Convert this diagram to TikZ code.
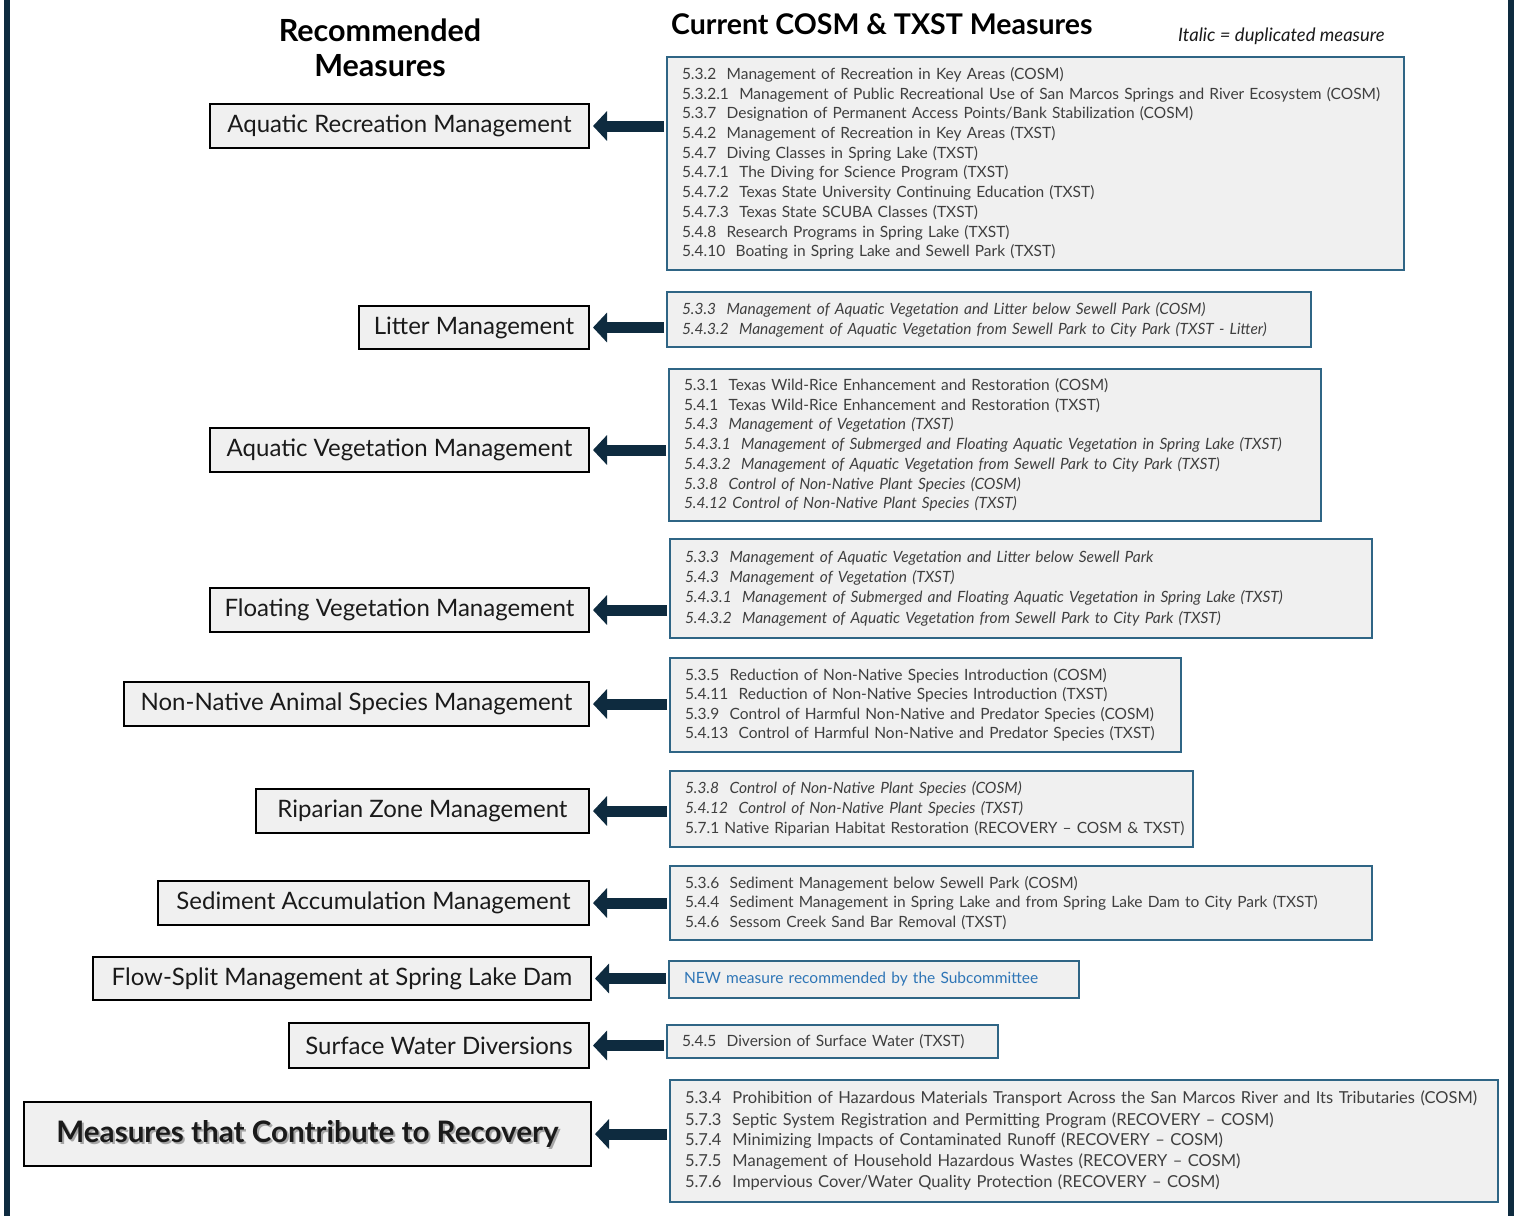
\documentclass[tikz,border=0pt]{standalone}
\usepackage{fontspec}
\setmainfont{Lato}
\usetikzlibrary{arrows.meta}
\definecolor{navy}{HTML}{0E2B3F}
\definecolor{rborder}{HTML}{2F6585}
\definecolor{boxfill}{HTML}{F0F0F0}
\definecolor{rtext}{HTML}{3F3F3F}
\definecolor{ltext}{HTML}{1A1A1A}
\definecolor{newblue}{HTML}{2E75B6}
\newcommand\rfnt[1]{\fontsize{15.5}{#1}\selectfont}
\tikzset{
  x=1pt, y=-1pt,
  lbox/.style={draw=black, line width=2pt, fill=boxfill, inner sep=0pt, anchor=north east,
    font=\fontsize{24}{28}\selectfont, text=ltext},
  rbox/.style={draw=rborder, line width=2pt, fill=boxfill, inner xsep=15pt, inner ysep=0pt,
    anchor=north west, align=left, text=rtext},
  arr/.style={draw=navy, line width=11pt, -{Triangle[width=29pt,length=14pt]}, shorten >=3pt},
  hdr/.style={font=\bfseries, text=black, inner sep=0pt, align=center},
}
\begin{document}
\begin{tikzpicture}
\useasboundingbox (0,0) rectangle (1518,1216);
\fill[white] (0,0) rectangle (1518,1216);
\fill[navy] (4,0) rectangle (10,1216);
\fill[navy] (1508,0) rectangle (1514,1216);

% headers
\node[hdr, font=\bfseries\fontsize{30.5}{35}\selectfont] (h1) at (380,48) {Recommended\\Measures};
\node[hdr, anchor=west, font=\bfseries\fontsize{28.5}{32}\selectfont] (h2) at (671,24) {Current COSM \& TXST Measures};
\node[anchor=west, inner sep=0pt, font=\itshape\fontsize{18.5}{20}\selectfont, text=ltext] (h3) at (1178,36) {Italic = duplicated measure};

% left boxes
\node[lbox, minimum width=379, minimum height=44] (l1) at (590,103) {Aquatic Recreation Management};
\node[lbox, minimum width=230, minimum height=43] (l2) at (590,305) {Litter Management};
\node[lbox, minimum width=379, minimum height=44] (l3) at (590,427) {Aquatic Vegetation Management};
\node[lbox, minimum width=379, minimum height=44] (l4) at (590,587) {Floating Vegetation Management};
\node[lbox, minimum width=465, minimum height=44] (l5) at (590,681) {Non-Native Animal Species Management};
\node[lbox, minimum width=333, minimum height=44] (l6) at (590,788) {Riparian Zone Management};
\node[lbox, minimum width=431, minimum height=44] (l7) at (590,880) {Sediment Accumulation Management};
\node[lbox, minimum width=498, minimum height=43] (l8) at (592,956) {Flow-Split Management at Spring Lake Dam};
\node[lbox, minimum width=300, minimum height=45] (l9) at (590,1022) {Surface Water Diversions};
\node[lbox, minimum width=567, minimum height=64] (l10) at (592,1101) {};
\node[font=\bfseries\fontsize{29.6}{32}\selectfont, text=black!35, inner sep=0pt] (l10s) at ([shift={(2,2)}]l10.center) {Measures that Contribute to Recovery};
\node[font=\bfseries\fontsize{29.6}{32}\selectfont, text=ltext, inner sep=0pt] (l10t) at (l10.center) {Measures that Contribute to Recovery};

% right boxes
\node[rbox, text width=707, minimum height=213, font=\rfnt{19.7}] (r1) at (666,56) {%
\mbox{5.3.2~ Management of Recreation in Key Areas (COSM)}\\
\mbox{5.3.2.1~ Management of Public Recreational Use of San Marcos Springs and River Ecosystem (COSM)}\\
\mbox{5.3.7~ Designation of Permanent Access Points/Bank Stabilization (COSM)}\\
\mbox{5.4.2~ Management of Recreation in Key Areas (TXST)}\\
\mbox{5.4.7~ Diving Classes in Spring Lake (TXST)}\\
\mbox{5.4.7.1~ The Diving for Science Program (TXST)}\\
\mbox{5.4.7.2~ Texas State University Continuing Education (TXST)}\\
\mbox{5.4.7.3~ Texas State SCUBA Classes (TXST)}\\
\mbox{5.4.8~ Research Programs in Spring Lake (TXST)}\\
\mbox{5.4.10~ Boating in Spring Lake and Sewell Park (TXST)}};

\node[rbox, text width=614, minimum height=55, font=\itshape\rfnt{20}] (r2) at (666,291) {%
\mbox{5.3.3~ Management of Aquatic Vegetation and Litter below Sewell Park (COSM)}\\
\mbox{5.4.3.2~ Management of Aquatic Vegetation from Sewell Park to City Park (TXST - Litter)}};

\node[rbox, text width=622, minimum height=152, font=\rfnt{19.7}] (r3) at (668,368) {%
\mbox{5.3.1~ Texas Wild-Rice Enhancement and Restoration (COSM)}\\
\mbox{5.4.1~ Texas Wild-Rice Enhancement and Restoration (TXST)}\\
\mbox{\itshape 5.4.3~ Management of Vegetation (TXST)}\\
\mbox{\itshape 5.4.3.1~ Management of Submerged and Floating Aquatic Vegetation in Spring Lake (TXST)}\\
\mbox{\itshape 5.4.3.2~ Management of Aquatic Vegetation from Sewell Park to City Park (TXST)}\\
\mbox{\itshape 5.3.8~ Control of Non-Native Plant Species (COSM)}\\
\mbox{\itshape 5.4.12 Control of Non-Native Plant Species (TXST)}};

\node[rbox, text width=672, minimum height=99, font=\itshape\rfnt{20.3}] (r4) at (669,538) {%
\mbox{5.3.3~ Management of Aquatic Vegetation and Litter below Sewell Park}\\
\mbox{5.4.3~ Management of Vegetation (TXST)}\\
\mbox{5.4.3.1~ Management of Submerged and Floating Aquatic Vegetation in Spring Lake (TXST)}\\
\mbox{5.4.3.2~ Management of Aquatic Vegetation from Sewell Park to City Park (TXST)}};

\node[rbox, text width=481, minimum height=94, font=\rfnt{19.5}] (r5) at (669,657) {%
\mbox{5.3.5~ Reduction of Non-Native Species Introduction (COSM)}\\
\mbox{5.4.11~ Reduction of Non-Native Species Introduction (TXST)}\\
\mbox{5.3.9~ Control of Harmful Non-Native and Predator Species (COSM)}\\
\mbox{5.4.13~ Control of Harmful Non-Native and Predator Species (TXST)}};

\node[rbox, text width=493, minimum height=76, font=\rfnt{20}] (r6) at (669,770) {%
\mbox{\itshape 5.3.8~ Control of Non-Native Plant Species (COSM)}\\
\mbox{\itshape 5.4.12~ Control of Non-Native Plant Species (TXST)}\\
\mbox{5.7.1 Native Riparian Habitat Restoration (RECOVERY -- COSM \& TXST)}};

\node[rbox, text width=672, minimum height=74, font=\rfnt{19.7}] (r7) at (669,865) {%
\mbox{5.3.6~ Sediment Management below Sewell Park (COSM)}\\
\mbox{5.4.4~ Sediment Management in Spring Lake and from Spring Lake Dam to City Park (TXST)}\\
\mbox{5.4.6~ Sessom Creek Sand Bar Removal (TXST)}};

\node[rbox, text width=380, minimum height=37, font=\rfnt{18}, text=newblue] (r8) at (668,960) {%
\mbox{NEW measure recommended by the Subcommittee}};

\node[rbox, text width=301, minimum height=33, font=\rfnt{18}] (r9) at (666,1024) {%
\mbox{5.4.5~ Diversion of Surface Water (TXST)}};

\node[rbox, text width=798, minimum height=122, font=\fontsize{16.5}{21}\selectfont] (r10) at (669,1079) {%
\mbox{5.3.4~ Prohibition of Hazardous Materials Transport Across the San Marcos River and Its Tributaries (COSM)}\\
\mbox{5.7.3~ Septic System Registration and Permitting Program (RECOVERY -- COSM)}\\
\mbox{5.7.4~ Minimizing Impacts of Contaminated Runoff (RECOVERY -- COSM)}\\
\mbox{5.7.5~ Management of Household Hazardous Wastes (RECOVERY -- COSM)}\\
\mbox{5.7.6~ Impervious Cover/Water Quality Protection (RECOVERY -- COSM)}};

% arrows
\foreach \i in {1,...,10}{
  \draw[arr] ([xshift=-2]r\i.west |- l\i.east) -- (l\i.east);
}
\end{tikzpicture}
\end{document}
